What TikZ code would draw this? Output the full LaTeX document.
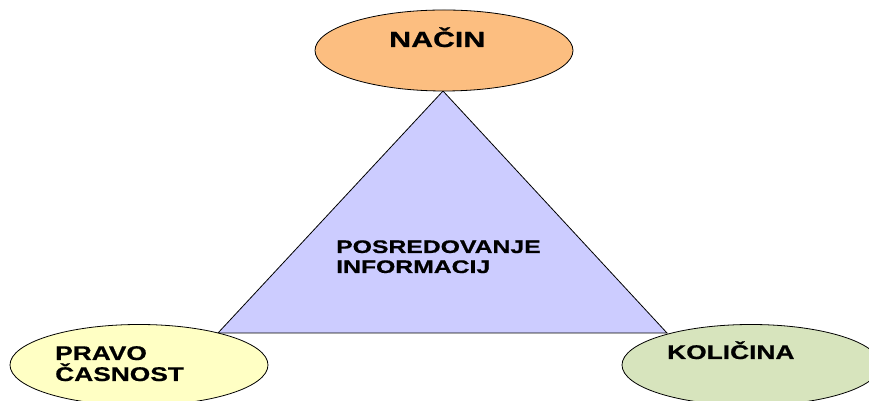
\documentclass[tikz,border=0pt]{standalone}
\usepackage{fontspec}
\setmainfont{Liberation Sans}[BoldFeatures={FakeBold=0.6}]
\usetikzlibrary{shapes.geometric}
\definecolor{orangefill}{RGB}{252,190,128}
\definecolor{yellowfill}{RGB}{255,255,196}
\definecolor{greenfill}{RGB}{215,228,189}
\definecolor{lavfill}{RGB}{204,204,255}
\tikzset{
  oval/.style={ellipse, draw=black, line width=0.8pt, inner sep=0pt, minimum width=258pt, minimum height=81pt},
  lbl/.style={anchor=base west, inner sep=0pt, font=\bfseries},
}
\newcommand{\wide}[2][1.36]{\scalebox{#1}[1]{#2}}
\begin{document}
\begin{tikzpicture}[x=1pt,y=1pt]
\useasboundingbox (0,0) rectangle (869,401);
\clip (0,0) rectangle (869,401);
\fill[white] (0,0) rectangle (869,401);
% triangle
\coordinate (apex) at (443,310);
\coordinate (bl) at (218,68);
\coordinate (br) at (667,68);
\draw[fill=lavfill, line width=0.8pt, line join=miter] (apex) -- (bl) -- (br) -- cycle;
% ovals
\node[oval, fill=orangefill] (nacin) at (444,350.5) {};
\node[oval, fill=yellowfill] (pravo) at (139,36) {};
\node[oval, fill=greenfill] (kolicina) at (751,36) {};
% labels
\node[lbl, font=\bfseries\fontsize{22}{24}\selectfont] (tnacin) at (389,354) {\wide[1.38]{NAČIN}};
\node[lbl, font=\bfseries\fontsize{18.2}{20}\selectfont] (tposr) at (336,148) {\wide{POSREDOVANJE}};
\node[lbl, font=\bfseries\fontsize{18.2}{20}\selectfont] (tinfo) at (336,128) {\wide{INFORMACIJ}};
\node[lbl, font=\bfseries\fontsize{19.8}{22}\selectfont] (tpravo) at (55,41) {\wide[1.33]{PRAVO}};
\node[lbl, font=\bfseries\fontsize{19.8}{22}\selectfont] (tcas) at (55,20) {\wide[1.33]{ČASNOST}};
\node[lbl, font=\bfseries\fontsize{19.8}{22}\selectfont] (tkol) at (667,42) {\wide[1.33]{KOLIČINA}};
\end{tikzpicture}
\end{document}
